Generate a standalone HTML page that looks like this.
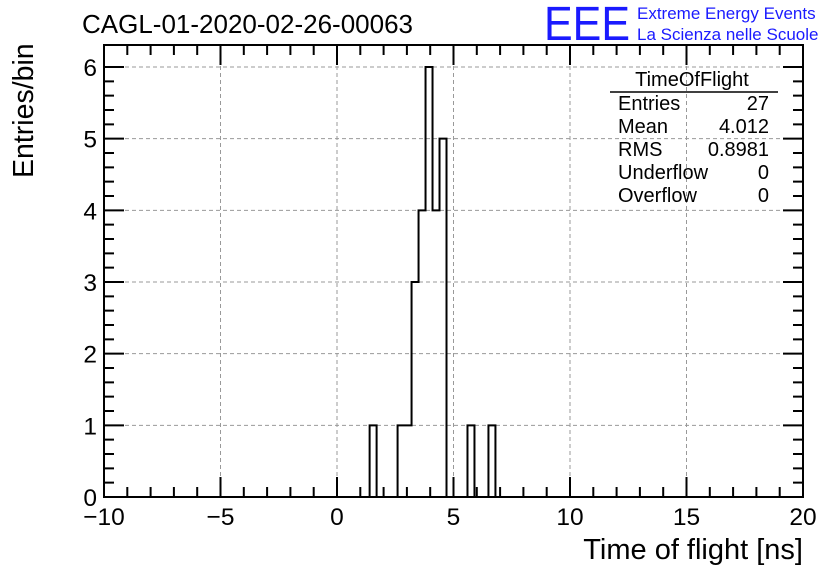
<!DOCTYPE html>
<html><head><meta charset="utf-8"><style>
body{margin:0;background:#fff;width:836px;height:572px;overflow:hidden}
svg{font-family:"Liberation Sans",sans-serif}
</style></head><body>
<svg width="836" height="572">
<text x="82" y="33" font-size="26">CAGL-01-2020-02-26-00063</text>
<text x="544" y="40" font-size="48" fill="#1a1aff" textLength="86" lengthAdjust="spacingAndGlyphs">EEE</text>
<text x="637" y="19" font-size="17" fill="#1a1aff">Extreme Energy Events</text>
<text x="637" y="40" font-size="17" fill="#1a1aff">La Scienza nelle Scuole</text>
<g id="grid"></g>
<g id="ticks"></g>
<g id="labels" font-size="24.5" fill="#000"></g>
<path id="hist" fill="none" stroke="#000" stroke-width="2"/>
<rect x="104" y="45" width="699" height="452" fill="none" stroke="#000" stroke-width="2"/>
<text x="803" y="559" font-size="29" text-anchor="end">Time of flight [ns]</text>
<text transform="translate(33,178) rotate(-90)" font-size="28.5" text-anchor="start">Entries/bin</text>
<g font-size="20">
<text x="692" y="86" text-anchor="middle">TimeOfFlight</text>
<line x1="610" y1="92" x2="778" y2="92" stroke="#000" stroke-width="1.5"/>
<text x="618" y="110">Entries</text><text x="769" y="110" text-anchor="end">27</text>
<text x="618" y="133">Mean</text><text x="769" y="133" text-anchor="end">4.012</text>
<text x="618" y="156">RMS</text><text x="769" y="156" text-anchor="end">0.8981</text>
<text x="618" y="179">Underflow</text><text x="769" y="179" text-anchor="end">0</text>
<text x="618" y="202">Overflow</text><text x="769" y="202" text-anchor="end">0</text>
</g>
</svg>
<script>
const binLows=[1.4,2.6,2.9,3.2,3.5,3.8,4.1,4.4,5.6,6.5];
const binCounts=[1,1,1,3,4,6,4,5,1,1];
const binWidth=0.3;
const xTicks=[-10,-5,0,5,10,15,20];
const xTickLabels=["\u221210","\u22125","0","5","10","15","20"];
const yTicks=[0,1,2,3,4,5,6];
const yTickLabels=["0","1","2","3","4","5","6"];
const X0=104,X1=803,Y0=497,Y1=45;
const sx=v=>X0+(v+10)/30*(X1-X0);
const sy=v=>Y0-v*(Y0-67)/6;
const ns="http://www.w3.org/2000/svg";
function mk(t,a,p){const e=document.createElementNS(ns,t);for(const k in a)e.setAttribute(k,a[k]);p.appendChild(e);return e;}
const grid=document.getElementById('grid'),ticks=document.getElementById('ticks'),labels=document.getElementById('labels');
xTicks.forEach((v,i)=>{const x=sx(v);
 if(v>-10&&v<20){const l=mk('line',{x1:x,y1:Y1,x2:x,y2:Y0,stroke:'#999','stroke-dasharray':'4,3','stroke-width':1},grid);
 }
 const t=mk('text',{x:x,y:525,'text-anchor':'middle'},labels);t.textContent=xTickLabels[i];
 });
yTicks.forEach((v,i)=>{const y=sy(v);
 if(v>0){const l=mk('line',{x1:X0,y1:y,x2:X1,y2:y,stroke:'#999','stroke-dasharray':'4,3','stroke-width':1},grid);
 }
 const t=mk('text',{x:97,y:y+9,'text-anchor':'end'},labels);t.textContent=yTickLabels[i];
 });
let d='';
for(let v=-10;v<=20;v++){const x=sx(v),L=(v%5===0)?20:10;
 d+=`M${x},${Y0}v${-L}M${x},${Y1}v${L}`;}
for(let k=0;k<=30;k++){const v=k*0.2,y=sy(v);if(y<Y1)break;const L=(k%5===0)?20:10;
 d+=`M${X0},${y}h${L}M${X1},${y}h${-L}`;}
const tp=mk('path',{d:d,stroke:'#000','stroke-width':2,fill:'none'},ticks);

const idx=v=>Math.round((v+10)/binWidth);
const counts=new Array(100).fill(0);
binLows.forEach((b,i)=>{counts[idx(b)]=binCounts[i];});
let p=`M${sx(-10)},${sy(0)}`;
for(let i=0;i<100;i++){const xl=sx(-10+i*binWidth),xr=sx(-10+(i+1)*binWidth),y=sy(counts[i]);
 p+=`L${xl},${y}L${xr},${y}`;}
document.getElementById('hist').setAttribute('d',p);
</script>
</body></html>
